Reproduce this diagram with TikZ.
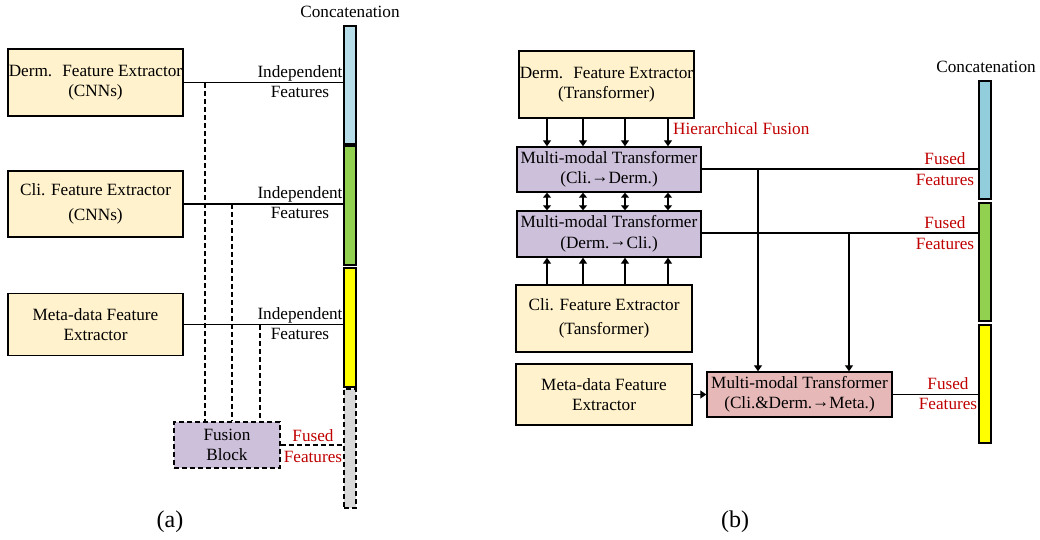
\documentclass[tikz,border=0pt]{standalone}
\usepackage{fontspec}
\setmainfont{Liberation Serif}
\usetikzlibrary{arrows.meta}
\definecolor{cream}{HTML}{FFF2CC}
\definecolor{lav}{HTML}{CCC0DA}
\definecolor{pinkb}{HTML}{E6B9B8}
\definecolor{blueA}{HTML}{B7DEE8}
\definecolor{blueB}{HTML}{92CDDC}
\definecolor{greenb}{HTML}{92D050}
\definecolor{yellowb}{HTML}{FFFF00}
\definecolor{greyb}{HTML}{D9D9D9}
\definecolor{redt}{HTML}{C00000}
\newcommand{\rar}{\raisebox{1.5pt}{→}}
\begin{document}
\begin{tikzpicture}[x=1pt,y=-1pt,
  txt/.style={font=\fontsize{17.2}{20.5}\selectfont, align=center, inner sep=0pt},
  box/.style n args={3}{draw=black, line width=1.4pt, fill=#3, minimum width=#1pt, minimum height=#2pt, inner sep=0pt, txt},
  bar/.style={draw=black, line width=1.3pt, fill=#1},
  conn/.style={line width=1.3pt},
  dconn/.style={line width=1.3pt, dash pattern=on 5pt off 3pt},
  arr/.style={line width=1.3pt, -{Triangle[length=6pt,width=8pt]}},
  darr/.style={line width=1.3pt, {Triangle[length=5pt,width=8pt]}-{Triangle[length=5pt,width=8pt]}},
  redlab/.style={txt, text=redt},
  sublab/.style={txt, font=\fontsize{24}{26}\selectfont},
]
\useasboundingbox (0,0) rectangle (1040,540);
% ---------------- panel (a)
\node[box={175}{67}{cream}] (dermA) at (95.5,82.5) {Derm.~ Feature Extractor\\(CNNs)};
\node[box={175}{66}{cream}] (cliA) at (95.5,204) {Cli. Feature Extractor\\[4pt](CNNs)};
\node[box={175}{62}{cream}] (metaA) at (95.5,324.5) {Meta-data Feature\\Extractor};
\node[bar=blueA, minimum width=12pt, minimum height=118pt, inner sep=0pt] (barA1) at (350,85) {};
\node[bar=greenb, minimum width=12pt, minimum height=119pt, inner sep=0pt] (barA2) at (350,205.5) {};
\node[bar=yellowb, minimum width=12pt, minimum height=119pt, inner sep=0pt] (barA3) at (350,327.5) {};
\node[bar=greyb, dash pattern=on 5pt off 3pt, minimum width=12pt, minimum height=119pt, inner sep=0pt] (barA4) at (350,448.5) {};
\node[txt] (concA) at (350,12) {Concatenation};
\node[box={106}{46}{lav}, dash pattern=on 5pt off 3pt] (fusion) at (227,445) {Fusion\\Block};

\draw[conn] (dermA.east) -- (dermA.east -| barA1.west);
\draw[conn] (cliA.east) -- (cliA.east -| barA2.west);
\draw[conn] (metaA.east) -- (metaA.east -| barA3.west);
\coordinate (ja1) at (205,83);
\coordinate (ja2) at (232,204);
\coordinate (ja3) at (260,324.5);
\draw[dconn] (ja1) -- (ja1 |- fusion.north);
\draw[dconn] (ja2) -- (ja2 |- fusion.north);
\draw[dconn] (ja3) -- (ja3 |- fusion.north);
\draw[dconn] (fusion.east) -- (fusion.east -| barA4.west);

\node[txt] (indA1) at (300,81.5) {Independent\\Features};
\node[txt] (indA2) at (300,202.5) {Independent\\Features};
\node[txt] (indA3) at (300,323.5) {Independent\\Features};
\node[redlab] (fusedA) at (313,446) {Fused\\Features};
\node[sublab] (labA) at (170,522) {(a)};

% ---------------- panel (b)
\node[box={175}{67}{cream}] (dermB) at (606.5,84.5) {Derm.~ Feature Extractor\\(Transformer)};
\node[box={184}{45}{lav}] (mmt1) at (609,169.5) {Multi-modal Transformer\\(Cli.\rar Derm.)};
\node[box={184}{46}{lav}] (mmt2) at (609,234) {Multi-modal Transformer\\(Derm.\rar Cli.)};
\node[box={176}{67}{cream}] (cliB) at (604,318.5) {Cli. Feature Extractor\\[3pt](Tansformer)};
\node[box={176}{61}{cream}] (metaB) at (604,394.5) {Meta-data Feature\\Extractor};
\node[box={185}{45}{pinkb}] (mmt3) at (799.5,394.5) {Multi-modal Transformer\\(Cli.\&Derm.\rar Meta.)};
\node[bar=blueB, minimum width=12pt, minimum height=118pt, inner sep=0pt] (barB1) at (985,140) {};
\node[bar=greenb, minimum width=12pt, minimum height=118pt, inner sep=0pt] (barB2) at (985,262) {};
\node[bar=yellowb, minimum width=12pt, minimum height=118pt, inner sep=0pt] (barB3) at (985,384) {};
\node[txt] (concB) at (986,67) {Concatenation};

\foreach \xx [count=\i] in {547,583,625,668} {
  \coordinate (ax\i) at (\xx,100);
  \draw[arr] (ax\i |- dermB.south) -- (ax\i |- mmt1.north);
  \draw[darr] (ax\i |- mmt1.south) -- (ax\i |- mmt2.north);
  \draw[arr] (ax\i |- cliB.north) -- (ax\i |- mmt2.south);
}
\node[redlab, anchor=west] (hier) at (673,129) {Hierarchical Fusion};

\coordinate (jb1) at (758,169);
\coordinate (jb2) at (849,233);
\draw[conn] (mmt1.east |- jb1) -- (jb1 -| barB1.west);
\draw[conn] (mmt2.east |- jb2) -- (jb2 -| barB2.west);
\draw[arr] (jb1) -- (jb1 |- mmt3.north);
\draw[arr] (jb2) -- (jb2 |- mmt3.north);
\draw[conn] (mmt3.east) -- (mmt3.east -| barB3.west);
\draw[arr] (metaB.east) -- (mmt3.west);

\node[redlab] (fusedB1) at (945,169) {Fused\\Features};
\node[redlab] (fusedB2) at (945,233) {Fused\\Features};
\node[redlab] (fusedB3) at (948,393.5) {Fused\\Features};
\node[sublab] (labB) at (735,522) {(b)};
\end{tikzpicture}
\end{document}
